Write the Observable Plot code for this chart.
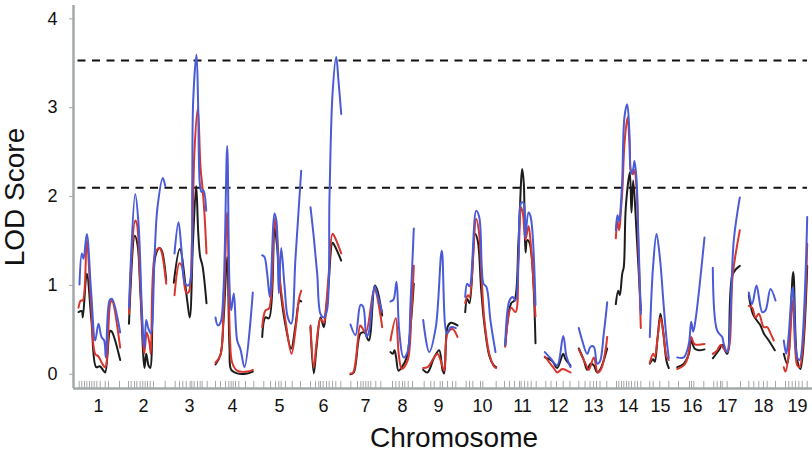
<!DOCTYPE html>
<html><head><meta charset="utf-8">
<script src="https://cdn.jsdelivr.net/npm/d3@7"></script>
<script src="https://cdn.jsdelivr.net/npm/@observablehq/plot@0.6"></script>
<style>body{margin:0;background:#fff}</style>
</head><body><div id="chart"></div>
<script>
// Chromosome names and the genome position (cM, cumulative) of each label
const chromosomes = ["1","2","3","4","5","6","7","8","9","10","11","12","13","14","15","16","17","18","19"];
const labelPos = [25,70,116,159,206,250,292,329,365,409,449,485,520,555,587,619,654,690,724];
const yTicks = [0, 1, 2, 3, 4];
const thresholds = [3.53, 2.1];
const genomeExtent = [4.5, 734];

// Marker positions (cumulative cM)
const markers = [
  5.7,8.3,11,13.3,16,18.3,20.7,23.3,26.7,31.7,35,46,
  55,57.7,61,63.3,66.7,69.3,71.7,74,76.7,80,91.7,
  101.7,106,109.3,112.7,116.7,118.3,120.7,124,126.7,128.7,133.7,
  142,147,152,155.3,157.7,159.7,162,165.3,172,180.3,
  190.3,197,202,205.3,207.7,212,218.7,227,
  237,242,245.3,247,249.7,253,255.7,259,262.3,267.3,
  277.3,284,287.3,289.7,292.3,294.7,297.3,302.3,307.3,
  319,322.3,325.7,329,331.3,334.7,339,
  350.7,357.3,360.7,366.7,369,374,379,382.3,
  392.7,396,399.3,407,409.3,422.7,
  431,436,441,446,447.7,451,454.3,457.7,462.7,
  472.3,477.5,483,489.7,496.5,
  505.3,511.5,516.5,520,523,526.5,533.3,
  543,545.3,548,550.3,553,555.3,558,561.3,564,567.3,
  576.3,579.7,586.3,595.3,
  605,616,618,620.3,630.3,
  640.3,643.7,647,648.7,653.7,667,
  675.3,680.3,685.3,690,693.7,702,
  712,715.3,718.7,722,725.3,728.7,733.7
];

// LOD profiles: one list of [position, LOD] per chromosome
const blueLOD = [
  [[6,1.01],[8.3,1.36],[10,1.30],[13.3,1.58],[17.5,0.95],[21.7,0.38],[25,0.57],[28,0.42],[30.7,0.38],[32.3,0.19],[36,0.83],[38.3,0.85],[46.7,0.47]],
  [[55.5,0.75],[61.7,2.03],[65,1.70],[68.3,0.75],[70,0.38],[71,0.30],[72.7,0.61],[75,0.51],[77.3,0.46],[81,1.32],[84,1.88],[89.3,2.21],[91.7,2.12]],
  [[101,1.36],[105,1.71],[108,1.4],[111.7,1.02],[115,1.0],[117.5,1.1],[118.7,2.1],[119.7,3.08],[123,3.6],[124.7,3.0],[126.3,2.15],[128,2.05],[130,2.07],[132.7,1.84]],
  [[142,0.64],[144.3,0.55],[147,0.58],[150,0.95],[153.7,2.57],[156,1.0],[157.7,0.72],[160.3,0.91],[163.7,0.38],[167,0.28],[171,0.08],[179.3,0.92]],
  [[188.7,1.34],[191,1.32],[193.7,1.13],[196.3,0.87],[201,1.81],[203,1.72],[205.3,0.91],[207.7,1.42],[211,1.0],[214.3,0.64],[217.7,0.57],[222,1.31],[227.7,2.29]],
  [[237,1.88],[240.3,1.54],[243.7,1.13],[247,0.68],[250.3,0.64],[253.5,0.72],[256,2.0],[259,3.15],[262.7,3.57],[265,3.3],[267.7,2.93]],
  [[277,0.56],[282,0.44],[287,0.78],[289.7,0.76],[293,0.42],[295.3,0.47],[301,0.99],[303.7,0.9],[308.7,0.70]],
  [[317,0.82],[320,0.84],[323,1.04],[325.7,0.49],[330,0.19],[334,0.25],[337,0.8],[340.3,1.64]],
  [[349.7,0.61],[355.7,0.25],[362.3,0.53],[368.3,1.39],[373.3,0.46],[377.3,0.53],[382.3,0.52]],
  [[391.7,0.87],[393.7,1.02],[396,0.99],[402.7,1.84],[405.7,1.77],[408.3,1.2],[410,1.02],[413,0.98],[417,0.6],[422,0.25]],
  [[431.7,0.33],[436,0.83],[439.3,0.87],[442,0.83],[445,1.3],[447.7,1.93],[450,1.93],[451.7,1.54],[455,1.82],[457,1.78],[462,0.78]],
  [[471.3,0.25],[477,0.18],[483.7,0.10],[489.7,0.43],[493,0.2],[497,0.08]],
  [[505.3,0.52],[508.7,0.38],[513.7,0.23],[517,0.31],[520.3,0.31],[523.7,0.12],[526.3,0.14],[530.3,0.46],[533.7,0.81]],
  [[542.3,1.62],[544,1.79],[545.7,1.72],[547.3,1.9],[548.7,2.18],[551,2.9],[553.7,3.04],[556,2.7],[557.5,2.26],[559.5,2.3],[561,2.4],[563,2.2],[565,1.5],[567.3,0.68]],
  [[576.3,0.42],[579.5,1.2],[583,1.58],[586.5,1.3],[590,0.8],[593,0.4],[595.3,0.18]],
  [[603.7,0.19],[610.3,0.19],[615.3,0.34],[617.7,0.59],[619.7,0.48],[622,0.61],[631,1.54]],
  [[639.3,1.20],[643.7,0.49],[648.7,0.42],[650.3,0.34],[653.7,0.25],[660.3,1.51],[666.3,1.99]],
  [[675.3,0.92],[678.7,0.79],[683,1.0],[688.7,0.70],[692,0.72],[697,0.96],[702,0.83]],
  [[710.3,0.38],[712.7,0.23],[714.7,0.38],[719.3,0.98],[723.7,0.19],[726,0.16],[733.7,1.77]]
];
const redLOD = [
  [[5,0.75],[7.3,0.83],[9.3,0.83],[13.3,1.5],[17.5,0.8],[21.7,0.23],[25,0.2],[28.3,0.13],[31.7,0.08],[36.7,0.80],[38.3,0.83],[46.7,0.30]],
  [[55.5,0.68],[61.7,1.73],[63.3,1.70],[66,1.2],[68.5,0.6],[70.7,0.23],[73.3,0.47],[76,0.35],[77.3,0.23],[81.7,1.36],[86,1.42],[88,1.38],[92.7,1.02]],
  [[101,0.89],[106,1.25],[108.3,1.22],[112.7,0.92],[115,0.92],[118.5,1.5],[121,2.52],[124.3,3.0],[127,2.33],[129,2.1],[131,1.8],[133,1.36]],
  [[142,0.13],[147,0.22],[150,0.7],[153.7,1.82],[156.5,0.4],[158.7,0.13],[163.7,0.04],[173.7,0.03],[179.3,0.05]],
  [[188.7,0.53],[192,0.72],[195.5,0.74],[201,1.75],[203.5,1.55],[207,1.0],[212,0.6],[218,0.23],[222,0.5],[225.5,0.85],[227.7,0.94]],
  [[237,0.55],[240.3,0.08],[243,0.35],[247,0.62],[250.3,0.58],[252,0.7],[255,1.1],[259,1.58],[261,1.55],[267.7,1.36]],
  [[277,0.01],[279.7,0.02],[286.7,0.55],[288.3,0.53],[292.3,0.47],[301,0.95],[308.7,0.53]],
  [[317,0.38],[322.3,0.63],[325.3,0.22],[328.3,0.06],[334,0.15],[338,0.7],[340.3,1.22]],
  [[349.7,0.07],[354,0.08],[360.7,0.19],[364,0.23],[367.3,0.15],[370.7,0.04],[374,0.46],[379,0.51],[384,0.42]],
  [[391.7,0.80],[394.3,0.89],[396,0.87],[402.7,1.75],[405.5,1.6],[408,1.1],[411,0.6],[416,0.22],[421,0.08],[422.7,0.07]],
  [[431.7,0.31],[437.7,0.75],[442,0.70],[445,1.3],[447.7,1.88],[449.5,1.8],[452,1.51],[455,1.67],[457,1.5],[462,0.65]],
  [[471.3,0.20],[480.3,0.07],[483.7,0.02],[488.7,0.06],[492,0.05],[497,0.02]],
  [[505.3,0.28],[512,0.12],[515.3,0.05],[520.3,0.19],[524.3,0.02],[527.7,0.06],[532,0.27],[533.7,0.42]],
  [[542.3,1.53],[544,1.72],[545.7,1.62],[547.5,1.85],[549,2.1],[551,2.6],[554,2.89],[556,2.6],[557.5,2.29],[559.5,2.25],[561,2.3],[563,2.1],[565,1.4],[567.3,0.52]],
  [[576.3,0.13],[579.7,0.23],[581.3,0.2],[584,0.4],[587,0.64],[590,0.45],[593,0.2],[595.3,0.16]],
  [[603.7,0.06],[610.3,0.10],[614.3,0.19],[617.7,0.42],[621,0.34],[631,0.34]],
  [[639.3,0.23],[643.7,0.27],[647,0.33],[653.7,0.25],[659.3,1.13],[666.3,1.62]],
  [[675.3,0.77],[678.7,0.75],[682,0.64],[685.3,0.68],[690.3,0.53],[693.7,0.53],[697,0.46],[700.3,0.38]],
  [[710.3,0.08],[712,0.03],[715.3,0.23],[719.3,0.83],[723.7,0.10],[726,0.08],[733.7,1.47]]
];
const blackLOD = [
  [[5,0.70],[8.3,0.71],[9.3,0.64],[13.3,1.13],[18,0.6],[22.7,0.08],[26.3,0.09],[30,0.04],[31.7,0.02],[36.7,0.49],[38.3,0.48],[46.7,0.16]],
  [[55.5,0.57],[61.3,1.56],[64,1.46],[67,0.9],[71,0.07],[72.7,0.23],[75,0.1],[76.7,0.07],[81.7,1.32],[86,1.42],[88.3,1.39],[92.7,1.06]],
  [[100.3,1.03],[106.3,1.41],[113.7,0.83],[116.3,0.64],[119.5,1.5],[122.7,2.12],[124.7,1.6],[126.7,1.32],[129,1.22],[133,0.8]],
  [[142,0.11],[147,0.22],[150,0.6],[153.7,1.32],[156,0.3],[157.7,0.05],[163.7,0.01],[173.7,0.01],[179.3,0.03]],
  [[188.7,0.42],[192,0.64],[195.5,0.63],[201,1.65],[203.5,1.45],[207,0.95],[212,0.55],[217.7,0.29],[222,0.55],[226,0.83],[227.7,0.82]],
  [[237,0.53],[240.3,0.01],[243,0.3],[247,0.64],[250.3,0.53],[252,0.66],[255,1.0],[259,1.48],[261,1.45],[267.7,1.28]],
  [[277,0.0],[280.3,0.02],[287,0.46],[291,0.47],[295.3,0.38],[301.3,1.0],[303.7,0.95],[308.7,0.66]],
  [[317,0.25],[319.3,0.23],[321,0.27],[322.5,0.2],[325,0.04],[328.3,0.08],[333.3,0.19],[337.5,0.6],[340.3,1.02]],
  [[349.7,0.05],[354,0.02],[360.7,0.19],[365.7,0.27],[369,0.05],[370.7,0.01],[374,0.53],[377.3,0.58],[384,0.55]],
  [[391.7,0.70],[393.7,0.85],[396,0.80],[401.7,1.58],[404.3,1.5],[407.7,0.95],[411,0.55],[416,0.2],[420.3,0.1],[422.7,0.08]],
  [[431.7,0.32],[437.7,0.80],[441,0.83],[445,1.5],[448.7,2.31],[450.3,2.15],[452,1.37],[453.7,1.51],[456,1.48],[462,0.35]],
  [[471.3,0.19],[478.7,0.15],[483.7,0.07],[489.7,0.23],[492,0.17],[497,0.10]],
  [[505.3,0.29],[510.3,0.16],[513.7,0.05],[517,0.12],[520.3,0.10],[523.7,0.02],[527,0.06],[533.7,0.29]],
  [[542.3,0.79],[544.7,0.94],[546.3,0.89],[548.7,1.13],[550.3,1.21],[552.3,1.88],[556.3,2.27],[558,1.82],[559.7,2.18],[563.5,1.5],[567.3,0.72]],
  [[576.3,0.12],[579.7,0.17],[581.3,0.14],[584,0.4],[587,0.68],[590,0.45],[593,0.15],[595.3,0.07]],
  [[603.7,0.08],[610.3,0.12],[615.3,0.23],[617.7,0.38],[621,0.29],[625.3,0.27],[631,0.28]],
  [[639.3,0.18],[645.3,0.27],[648.7,0.33],[653.7,0.23],[659.3,1.13],[666.3,1.22]],
  [[675.3,0.89],[679.3,0.68],[683.7,0.60],[687,0.55],[690.3,0.46],[695.3,0.38],[701.3,0.27]],
  [[710.3,0.23],[713.7,0.12],[719.7,1.15],[723.7,0.16],[727,0.06],[733.7,1.22]]
];

const seriesColors = {black: "#1c1c1c", red: "#d8352c", blue: "#4a5bd8"};

function rows(profile, series) {
  const out = [];
  profile.forEach((pts, i) => pts.forEach(([pos, lod]) => out.push({series, chr: chromosomes[i], pos, lod})));
  return out;
}
const blackRows = rows(blackLOD, "black");
const redRows = rows(redLOD, "red");
const blueRows = rows(blueLOD, "blue");

const axisGrey = "#a3a9a9";
const yMin = -0.16, yMax = 4.15;

const chart = Plot.plot({
  width: 812,
  height: 455,
  marginLeft: 73,
  marginRight: 0,
  marginTop: 5,
  marginBottom: 67,
  style: {fontFamily: "'Liberation Sans', Arial, Helvetica, sans-serif", background: "#fff", color: "#111"},
  x: {domain: [0, 739]},
  y: {domain: [yMin, yMax]},
  marks: [
    Plot.ruleY(thresholds, {x1: genomeExtent[0], x2: genomeExtent[1], stroke: "#111", strokeWidth: 2, strokeDasharray: "8,6.5"}),
    Plot.line(blackRows, {x: "pos", y: "lod", z: "chr", stroke: seriesColors.black, strokeWidth: 2, curve: "catmull-rom"}),
    Plot.line(redRows, {x: "pos", y: "lod", z: "chr", stroke: seriesColors.red, strokeWidth: 2, curve: "catmull-rom"}),
    Plot.line(blueRows, {x: "pos", y: "lod", z: "chr", stroke: seriesColors.blue, strokeWidth: 2, curve: "catmull-rom"}),
    Plot.ruleX(markers, {x: d => d, y1: yMin, y2: yMin + 0.08, stroke: axisGrey, strokeWidth: 1}),
    Plot.ruleX([0], {stroke: axisGrey, strokeWidth: 2.5}),
    Plot.ruleY([yMin], {stroke: axisGrey, strokeWidth: 2.5}),
    Plot.axisY({ticks: yTicks, tickFormat: d => String(d), tickSize: 4, tickPadding: 12, fontSize: 18, stroke: axisGrey, fill: "#111", label: null}),
    Plot.axisX({ticks: labelPos, tickFormat: d => chromosomes[labelPos.indexOf(d)], tickSize: 0, tickPadding: 11, fontSize: 18, fill: "#111", label: null}),
    Plot.text(["LOD Score"], {text: d => d, frameAnchor: "left", textAnchor: "middle", lineAnchor: "middle", rotate: -90, dx: -58, fontSize: 28, fill: "#111"}),
    Plot.text(["Chromosome"], {text: d => d, frameAnchor: "bottom", dx: 11, dy: 58, fontSize: 28, fill: "#111"})
  ]
});
document.getElementById("chart").appendChild(chart);
</script></body></html>
